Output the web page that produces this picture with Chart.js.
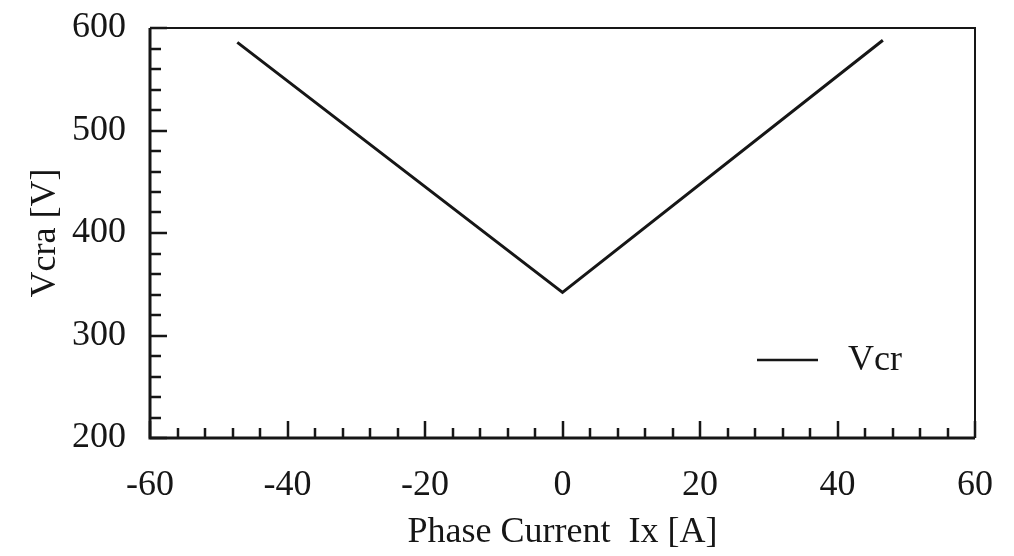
<!DOCTYPE html>
<html lang="en">
<head>
    <meta charset="UTF-8">
    <title>Vcra vs Phase Current</title>
    <script src="https://cdn.jsdelivr.net/npm/chart.js"></script>
    <style>
        html, body { margin: 0; padding: 0; background: #fff; }
        #wrap { width: 1014px; height: 556px; }
    </style>
</head>
<body>
    <div id="wrap"><canvas id="vcr-chart"></canvas></div>

    <script>
        // V-shaped Vcr curve: phase current [A] against voltage [V]
        const currentA = [-47.3, 0, 46.6];
        const vcrV = [586, 342, 588];
        const seriesLabel = 'Vcr';

        // axis ranges and tick spacing
        const xRange = [-60, 60];
        const xMajor = 20;
        const xMinor = 4;
        const yRange = [200, 600];
        const yMajor = 100;
        const yMinor = 20;

        const ink = '#161616';
        const serif = 'Liberation Serif, Times New Roman, serif';

        // frame plus inward tick marks on the left and bottom axes
        const frameTicks = {
            id: 'frameTicks',
            afterDraw(chart) {
                const { ctx, chartArea: a, scales } = chart;
                ctx.save();
                ctx.strokeStyle = ink;
                ctx.lineCap = 'butt';

                ctx.lineWidth = 2;
                ctx.beginPath();
                ctx.moveTo(a.left, a.top);
                ctx.lineTo(a.right, a.top);
                ctx.lineTo(a.right, a.bottom);
                ctx.stroke();

                ctx.lineWidth = 3;
                ctx.beginPath();
                ctx.moveTo(a.right, a.bottom);
                ctx.lineTo(a.left, a.bottom);
                ctx.lineTo(a.left, a.top);
                ctx.stroke();

                ctx.lineWidth = 2.5;
                ctx.beginPath();
                for (let v = xRange[0]; v <= xRange[1]; v += xMinor) {
                    const px = Math.round(scales.x.getPixelForValue(v));
                    const len = v % xMajor === 0 ? 17 : 10;
                    ctx.moveTo(px, a.bottom);
                    ctx.lineTo(px, a.bottom - len);
                }
                for (let v = yRange[0]; v <= yRange[1]; v += yMinor) {
                    const py = Math.round(scales.y.getPixelForValue(v));
                    const len = v % yMajor === 0 ? 17 : 11;
                    ctx.moveTo(a.left, py);
                    ctx.lineTo(a.left + len, py);
                }
                ctx.stroke();

                // legend in the lower right corner
                const lx = a.right - 218;
                const ly = a.bottom - 78;
                ctx.lineWidth = 2.5;
                ctx.beginPath();
                ctx.moveTo(lx, ly);
                ctx.lineTo(lx + 61, ly);
                ctx.stroke();
                ctx.fillStyle = ink;
                ctx.font = '36px ' + serif;
                ctx.textBaseline = 'middle';
                ctx.fillText(chart.data.datasets[0].label, lx + 91, ly + 1);
                ctx.restore();
            }
        };

        const ctx = document.getElementById('vcr-chart').getContext('2d');
        new Chart(ctx, {
            type: 'line',
            data: {
                datasets: [{
                    label: seriesLabel,
                    data: currentA.map((x, i) => ({ x, y: vcrV[i] })),
                    borderColor: ink,
                    borderWidth: 3,
                    pointRadius: 0,
                    tension: 0,
                    fill: false
                }]
            },
            options: {
                responsive: true,
                maintainAspectRatio: false,
                animation: false,
                layout: { padding: { top: 28, right: 39, bottom: 0, left: 0 } },
                plugins: {
                    legend: { display: false },
                    tooltip: { enabled: false }
                },
                scales: {
                    x: {
                        type: 'linear',
                        min: xRange[0],
                        max: xRange[1],
                        grid: { display: false, drawTicks: false },
                        border: { display: false },
                        ticks: {
                            stepSize: xMajor,
                            color: ink,
                            padding: 26,
                            maxRotation: 0,
                            font: { family: serif, size: 36 }
                        },
                        title: {
                            display: true,
                            text: 'Phase Current  Ix [A]',
                            color: ink,
                            font: { family: serif, size: 36 },
                            padding: { top: 0, bottom: 2 }
                        },
                        afterFit(scale) {
                            scale.height = 118;
                            scale.paddingLeft = 0;
                            scale.paddingRight = 0;
                        }
                    },
                    y: {
                        min: yRange[0],
                        max: yRange[1],
                        grid: { display: false, drawTicks: false },
                        border: { display: false },
                        ticks: {
                            stepSize: yMajor,
                            color: ink,
                            padding: 24,
                            font: { family: serif, size: 36 }
                        },
                        title: {
                            display: true,
                            text: 'Vcra [V]',
                            color: ink,
                            font: { family: serif, size: 36 },
                            padding: { top: 24, bottom: 0 }
                        },
                        afterFit(scale) {
                            scale.width = 150;
                            scale.paddingTop = 0;
                            scale.paddingBottom = 0;
                        }
                    }
                }
            },
            plugins: [frameTicks]
        });
    </script>
</body>
</html>
